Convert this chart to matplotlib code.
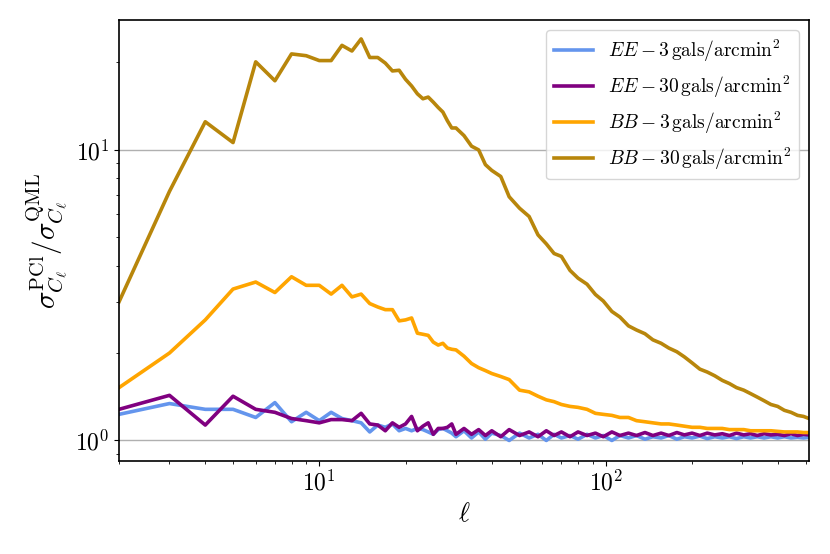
import numpy as np
import matplotlib
matplotlib.use("Agg")
import matplotlib.pyplot as plt
from matplotlib.ticker import FuncFormatter, NullFormatter

plt.rcParams['mathtext.fontset'] = 'cm'
plt.rcParams['font.family'] = 'serif'
plt.rcParams['font.serif'] = ['DejaVu Serif']

# multipoles: every ell up to 30, sparser beyond
ells = list(range(2, 31)) + [32, 34, 36, 38, 40, 43, 46, 50, 54, 58, 62, 66, 70, 75, 80, 86, 92, 98,
                             105, 112, 120, 128, 137, 146, 156, 166, 177, 188, 200, 213, 226, 240,
                             255, 270, 286, 303, 320, 338, 357, 377, 398, 420, 443, 467, 490, 512]

ee_3 = [1.23, 1.34, 1.28, 1.28, 1.20, 1.35, 1.16, 1.25, 1.17, 1.25, 1.19, 1.17, 1.15, 1.07, 1.13,
        1.11, 1.14, 1.08, 1.10, 1.08, 1.10, 1.09, 1.07, 1.05, 1.09, 1.10, 1.08, 1.06, 1.03,
        1.08, 1.02, 1.07, 1.01, 1.06, 1.04, 1.00, 1.06, 1.02, 1.05, 1.00, 1.05, 1.02, 1.04, 1.01,
        1.05, 1.02, 1.04, 1.00, 1.04, 1.02, 1.04, 1.01, 1.03, 1.02, 1.04, 1.01, 1.03, 1.02, 1.035,
        1.015, 1.03, 1.02, 1.03, 1.015, 1.03, 1.02, 1.03, 1.02, 1.03, 1.02, 1.03, 1.02, 1.025, 1.02, 1.025]

ee_30 = [1.28, 1.43, 1.13, 1.42, 1.28, 1.25, 1.19, 1.17, 1.15, 1.18, 1.18, 1.17, 1.24, 1.14, 1.13,
         1.08, 1.15, 1.11, 1.14, 1.21, 1.08, 1.12, 1.15, 1.05, 1.10, 1.10, 1.11, 1.14, 1.05,
         1.10, 1.05, 1.09, 1.04, 1.08, 1.03, 1.09, 1.04, 1.07, 1.03, 1.08, 1.04, 1.07, 1.03, 1.07,
         1.04, 1.06, 1.03, 1.07, 1.04, 1.06, 1.04, 1.065, 1.04, 1.06, 1.04, 1.065, 1.045, 1.06, 1.04,
         1.06, 1.045, 1.055, 1.04, 1.06, 1.045, 1.055, 1.04, 1.055, 1.045, 1.05, 1.04, 1.055, 1.04, 1.05, 1.045]

bb_3 = [1.52, 2.00, 2.60, 3.32, 3.51, 3.23, 3.66, 3.42, 3.42, 3.19, 3.42, 3.12, 3.19, 2.96, 2.88,
        2.82, 2.82, 2.58, 2.60, 2.64, 2.34, 2.32, 2.30, 2.18, 2.13, 2.16, 2.08, 2.06, 2.05,
        1.95, 1.84, 1.78, 1.74, 1.70, 1.66, 1.62, 1.49, 1.47, 1.42, 1.38, 1.36, 1.33, 1.31, 1.30,
        1.28, 1.24, 1.23, 1.22, 1.20, 1.20, 1.17, 1.16, 1.15, 1.14, 1.14, 1.13, 1.12, 1.11, 1.11,
        1.10, 1.10, 1.10, 1.09, 1.09, 1.09, 1.08, 1.08, 1.08, 1.08, 1.075, 1.07, 1.07, 1.07, 1.065, 1.065]

bb_30 = [3.0, 7.2, 12.5, 10.6, 20.1, 17.3, 21.4, 21.1, 20.3, 20.3, 22.9, 21.9, 24.1, 20.8, 20.8,
         19.9, 18.7, 18.8, 17.5, 16.6, 15.6, 15.0, 15.2, 14.6, 14.0, 13.5, 12.6, 11.9, 11.9,
         11.2, 10.3, 10.0, 8.9, 8.5, 8.1, 6.9, 6.3, 5.9, 5.1, 4.75, 4.4, 4.3, 3.85, 3.62,
         3.45, 3.18, 3.02, 2.78, 2.66, 2.48, 2.40, 2.33, 2.22, 2.16, 2.08, 2.02, 1.94, 1.85, 1.76,
         1.72, 1.67, 1.61, 1.57, 1.52, 1.49, 1.45, 1.41, 1.37, 1.33, 1.31, 1.27, 1.25, 1.22, 1.21, 1.19]

series = [
    (ee_3, 'cornflowerblue', r'$EE - 3\,\mathrm{gals/arcmin}^2$'),
    (ee_30, 'purple', r'$EE - 30\,\mathrm{gals/arcmin}^2$'),
    (bb_3, 'orange', r'$BB - 3\,\mathrm{gals/arcmin}^2$'),
    (bb_30, 'darkgoldenrod', r'$BB - 30\,\mathrm{gals/arcmin}^2$'),
]

fig = plt.figure(figsize=(8.3, 5.54), dpi=100)
ax = fig.add_axes([0.1434, 0.1679, 0.8313, 0.796])

for vals, col, lab in series:
    ax.plot(ells, vals, color=col, lw=2.6, label=lab)

ax.set_xscale('log')
ax.set_yscale('log')
ax.set_xlim(2, 512)
ax.set_ylim(0.85, 28)
ax.grid(True, which='major', axis='y', color='#b0b0b0', lw=1.0)

fmt = FuncFormatter(lambda v, pos: r'$10^{%d}$' % round(np.log10(v)))
ax.xaxis.set_major_formatter(fmt)
ax.yaxis.set_major_formatter(fmt)
ax.xaxis.set_minor_formatter(NullFormatter())
ax.yaxis.set_minor_formatter(NullFormatter())
ax.tick_params(labelsize=17)
for sp in ax.spines.values():
    sp.set_linewidth(1.2)

ax.set_xlabel(r'$\ell$', fontsize=19)
ax.set_ylabel(r'$\sigma_{C_\ell}^{\mathrm{PCl}} / \sigma_{C_\ell}^{\mathrm{QML}}$', fontsize=21)

ax.legend(loc='upper right', fontsize=14)

fig.savefig('out.png', dpi=100)
